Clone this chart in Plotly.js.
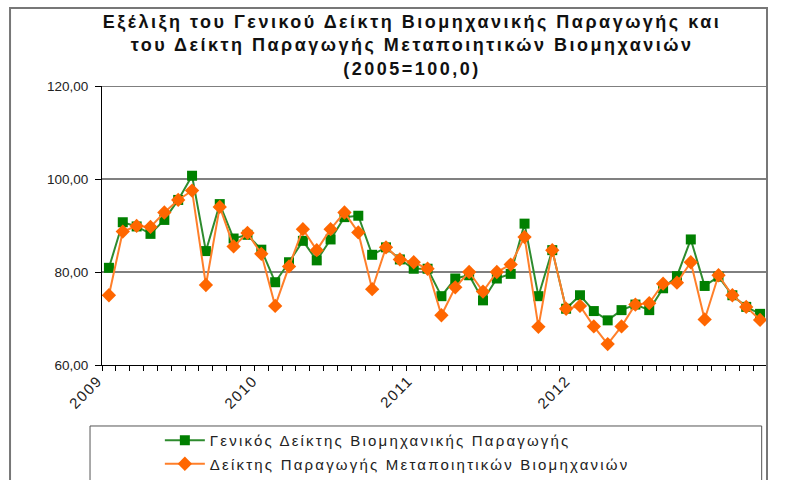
<!DOCTYPE html>
<html>
<head>
<meta charset="utf-8">
<script src="https://cdn.plot.ly/plotly-3.0.1.min.js"></script>
<style>html,body{margin:0;padding:0;background:#fff;}#chart{width:797px;height:480px;}</style>
</head>
<body>
<div id="chart"></div>
<script>
// Monthly values, Jan 2009 – Dec 2012 (2005=100,0)
const months = Array.from({length: 48}, (_, i) => i + 1);
const generalIndex = [80.9, 90.7, 89.8, 88.2, 91.2, 95.5, 100.7, 84.5, 94.6, 87.2, 88.0, 84.8,
  77.8, 82.1, 86.7, 82.5, 87.0, 91.8, 92.1, 83.7, 85.3, 82.7, 80.7, 80.7,
  74.8, 78.6, 79.3, 73.9, 78.6, 79.6, 90.4, 74.8, 84.7, 72.1, 75.0, 71.6,
  69.6, 71.8, 73.0, 71.8, 76.5, 79.1, 87.0, 77.0, 79.0, 75.0, 72.5, 71.0];
const manufIndex = [75.0, 88.7, 89.9, 89.7, 92.8, 95.5, 97.5, 77.2, 94.0, 85.5, 88.4, 83.9,
  72.7, 81.2, 89.2, 84.7, 89.2, 92.8, 88.5, 76.3, 85.3, 82.7, 82.1, 80.7,
  70.7, 76.7, 80.0, 75.8, 80.0, 81.6, 87.5, 68.2, 84.7, 72.1, 72.7, 68.3,
  64.5, 68.3, 73.0, 73.3, 77.5, 77.7, 82.1, 69.8, 79.3, 75.0, 72.5, 69.7];
const yearLabels = ['2009', '2010', '2011', '2012'];
const yearLabelPos = [0.5, 11.7, 22.9, 34.3];
const yTicks = [60, 80, 100, 120];
const seriesNames = ['Γενικός Δείκτης Βιομηχανικής Παραγωγής', 'Δείκτης Παραγωγής Μεταποιητικών Βιομηχανιών'];
const titleLines = ['Εξέλιξη του Γενικού Δείκτη Βιομηχανικής Παραγωγής και', 'του Δείκτη Παραγωγής Μεταποιητικών Βιομηχανιών', '(2005=100,0)'];

const font = 'Arial, "Liberation Sans", sans-serif';
const spaced = (s, px) => '<span style="letter-spacing:' + px + 'px">' + s + '</span>';

const traces = [
  {x: months, y: generalIndex, name: spaced(seriesNames[0], 2.2), legendgroup: 'a', type: 'scatter', mode: 'lines+markers',
   line: {color: '#2e8b2e', width: 2}, marker: {symbol: 'square', size: 10, color: '#008000'}},
  {x: months, y: manufIndex, name: spaced(seriesNames[1], 2.2), legendgroup: 'b', type: 'scatter', mode: 'lines+markers',
   line: {color: '#ff7f2a', width: 2}, marker: {symbol: 'diamond', size: 11, color: '#ff6600'}}
];

const layout = {
  width: 797, height: 480,
  margin: {l: 102, r: 30, t: 86, b: 115, autoexpand: false},
  paper_bgcolor: '#fff', plot_bgcolor: '#fff',
  separators: ',.',
  font: {family: font, size: 14, color: '#222'},
  title: {text: '<b>' + titleLines.map(l => spaced(l, 2.5)).join('<br>') + '</b>',
    font: {family: font, size: 18, color: '#111'}, x: 0.517, xanchor: 'center', y: 0.9417, yanchor: 'top'},
  xaxis: {range: [0.5, 48.5], tickmode: 'array', tickvals: yearLabelPos, ticktext: yearLabels.map(t => spaced(t, 1.5)),
    tickangle: -45, ticks: '', ticklabelshift: -4, showline: true, linecolor: '#000', linewidth: 1, showgrid: false, zeroline: false,
    tickfont: {size: 15, color: '#222'},
    minor: {ticks: 'outside', tick0: 0.5, dtick: 1, ticklen: 5, tickcolor: '#000', tickwidth: 1, showgrid: false}},
  yaxis: {range: [60, 120], tickmode: 'array', tickvals: yTicks, tickformat: '.2f',
    ticks: 'outside', ticklen: 6, tickcolor: '#000', showline: true, linecolor: '#000', linewidth: 1,
    ticklabelstandoff: 4,
    showgrid: false, zeroline: false, tickfont: {size: 13.5, color: '#222'}},
  showlegend: true,
  legend: {x: 0.087, xref: 'paper', y: 0.1167, yref: 'container', xanchor: 'left', yanchor: 'top', orientation: 'v',
    itemwidth: 40, font: {size: 15, color: '#222'}, bgcolor: 'rgba(0,0,0,0)', borderwidth: 0, tracegroupgap: 1},
  shapes: [
    {type: 'line', xref: 'paper', yref: 'y', x0: 0, x1: 1, y0: 80, y1: 80, line: {color: '#000', width: 1}, layer: 'below'},
    {type: 'line', xref: 'paper', yref: 'y', x0: 0, x1: 1, y0: 100, y1: 100, line: {color: '#808080', width: 2}, layer: 'below'},
    {type: 'line', xref: 'paper', yref: 'y', x0: 0, x1: 1, y0: 120, y1: 120, line: {color: '#000', width: 1}, layer: 'below'},
    {type: 'rect', xref: 'paper', yref: 'paper', x0: -0.1383, x1: 1.0, y0: -0.6, y1: 1.2796, line: {color: '#777', width: 2}, fillcolor: 'rgba(0,0,0,0)'},
    {type: 'rect', xref: 'paper', yref: 'paper', x0: -0.018, x1: 0.992, y0: -0.6, y1: -0.2186, line: {color: '#555', width: 1}, fillcolor: 'rgba(0,0,0,0)'}
  ]
};

Plotly.newPlot('chart', traces, layout, {displayModeBar: false, staticPlot: true});
</script>
</body>
</html>
